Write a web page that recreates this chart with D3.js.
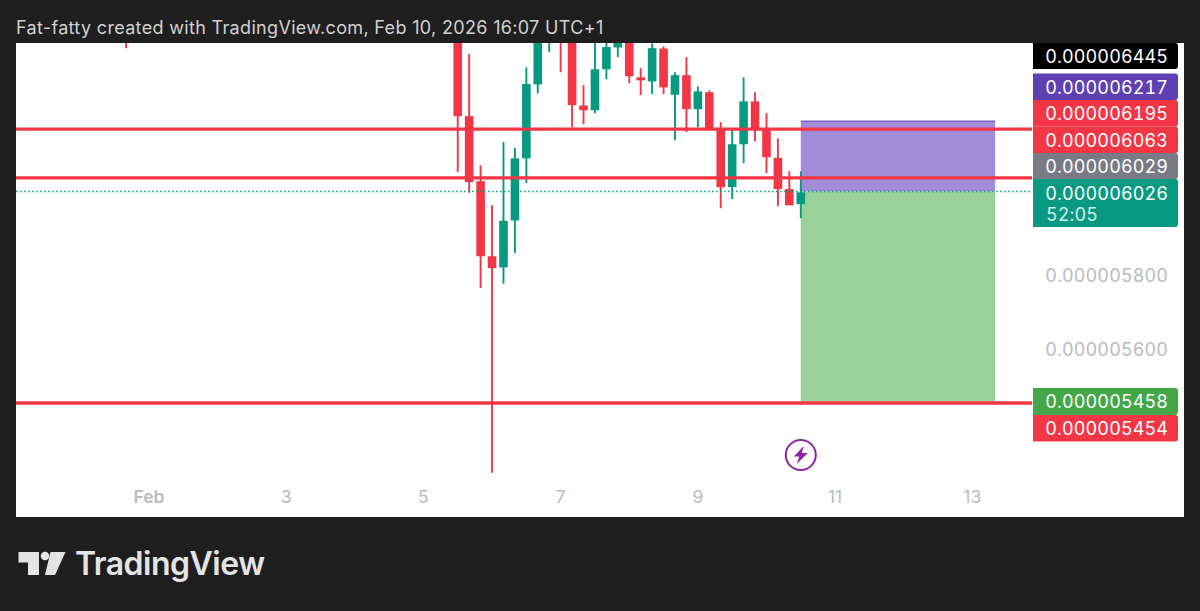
<!DOCTYPE html>
<html><head><meta charset="utf-8">
<script src="https://cdn.jsdelivr.net/npm/d3@7"></script>
<style>html,body{margin:0;padding:0;background:#1e1e1e}svg{display:block}text{font-family:Inter,"Noto Sans",sans-serif}.num{font-variant-numeric:tabular-nums;font-feature-settings:"tnum" 1}</style>
</head><body><div id="c"></div>
<script>
// bar index counted in 4h bars from Feb 1; prices are in units of 1e-9
const barIndex=[-2,27,28,29,30,31,32,33,34,35,36,37,38,39,40,41,42,43,44,45,46,47,48,49,50,51,52,53,54,55,56,57];
const opens =[6470,6560,6230,6054,5851,5821,5948,6116,6316,6450,6540,6470,6259,6246,6357,6416,6450,6335,6324,6413,6288,6341,6249,6295,6197,6038,6154,6270,6197,6117,6033,5992];
const closes=[6424,6230,6052,5851,5819,5947,6116,6317,6470,6520,6450,6260,6246,6357,6417,6440,6338,6327,6414,6308,6341,6249,6297,6195,6038,6154,6270,6192,6119,6033,5989,6024];
const highs =[6490,6600,6398,6097,5989,6160,6144,6362,6490,6560,6580,6510,6314,6470,6430,6460,6470,6360,6427,6419,6349,6390,6311,6300,6214,6192,6335,6295,6238,6170,6081,6081];
const lows  =[6414,6079,6023,5765,5265,5777,5860,6049,6292,6403,6349,6200,6208,6238,6330,6390,6319,6287,6290,6290,6165,6187,6200,6195,5981,6006,6103,6162,6076,5987,5989,5954];
const levels=[6195,6063,5454];
const lastPrice=6026, posTop=6217, posBottom=5458, posStartBar=57, posEndBar=74;
const priceTicks=[5800,5600];
const tickBars=[0,12,24,36,48,60,72];
const tickLabels=["Feb","3","5","7","9","11","13"];
const tagValues=["0.000006445","0.000006217","0.000006195","0.000006063","0.000006029","0.000006026","0.000005458","0.000005454"];
const tagColors=["#000000","#5e3fb4","#f23645","#f23645","#787b86","#089981","#43a748","#f23645"];
const title="Fat-fatty created with TradingView.com, Feb 10, 2026 16:07 UTC+1";
const countdown="52:05";

const W=1200,H=611,L=16,R=1184,T=43,B=517,AX=1033,TAG=18,TAGSP=0.12;
const svg=d3.select("#c").append("svg").attr("width",W).attr("height",H);
svg.append("rect").attr("width",W).attr("height",H).attr("fill","#1e1e1e");
svg.append("rect").attr("x",L).attr("y",T).attr("width",R-L).attr("height",B-T).attr("fill","#fff");
svg.append("defs").append("clipPath").attr("id","clip").append("rect").attr("x",L).attr("y",T).attr("width",AX-L).attr("height",B-T);
svg.append("text").attr("x",16).attr("y",34).attr("fill","#d2d2d2").attr("font-size",18).attr("letter-spacing",0.33).text(title);

const x=d3.scaleLinear().domain([0,72]).range([149,972.3]);
const y=d3.scaleLinear().domain([5454,6217]).range([403,121]);
const g=svg.append("g").attr("clip-path","url(#clip)");
const UP="#089981",DN="#f23645";

// position tool
const px=x(posStartBar),pw=x(posEndBar)-px;
g.append("rect").attr("x",px).attr("y",y(posTop)).attr("width",pw).attr("height",y(lastPrice)-y(posTop)).attr("fill","#a28cd8");
g.append("rect").attr("x",px).attr("y",y(posTop)-0.5).attr("width",pw).attr("height",1.5).attr("fill","#7e62c4");
g.append("rect").attr("x",px).attr("y",y(lastPrice)).attr("width",pw).attr("height",y(posBottom)-y(lastPrice)).attr("fill","#98d298");

// candles
const bars=barIndex.map((b,i)=>({b,o:opens[i],c:closes[i],h:highs[i],l:lows[i]}));
g.selectAll(".w").data(bars).join("line").attr("x1",d=>x(d.b)).attr("x2",d=>x(d.b)).attr("y1",d=>y(d.h)).attr("y2",d=>y(d.l))
 .attr("stroke",d=>d.c>=d.o?UP:DN).attr("stroke-width",1.9);
g.selectAll(".b").data(bars.filter(d=>d.b>=0)).join("rect").attr("x",d=>x(d.b)-4.3).attr("width",8.6)
 .attr("y",d=>y(Math.max(d.o,d.c))).attr("height",d=>Math.max(1,Math.abs(y(d.o)-y(d.c))))
 .attr("fill",d=>d.c>=d.o?UP:DN);

// levels
g.selectAll(".lv").data(levels).join("line").attr("x1",L).attr("x2",AX-1).attr("y1",d=>y(d)).attr("y2",d=>y(d)).attr("stroke",DN).attr("stroke-width",3.4);
g.append("line").attr("x1",L).attr("x2",AX-1).attr("y1",y(lastPrice)).attr("y2",y(lastPrice)).attr("stroke",UP).attr("stroke-width",1.5).attr("stroke-dasharray","1.5 2.5");

// price axis
svg.selectAll(".pt").data(priceTicks).join("text").attr("class","num").attr("x",1168+TAGSP).attr("y",d=>y(d)+0.5).attr("dy","0.36em").attr("text-anchor","end")
 .attr("fill","#b8bbc4").attr("font-size",TAG).attr("letter-spacing",TAGSP).text(d=>"0.00000"+d);

// stacked price tags, as laid out on the axis
const tagTop=[43,73.5,100,126.5,153,179,388,415], tagH=[26,26.5,26.5,26.5,26,48,27,26.5], tagText=[13.5,14,14,14,14,15,14,13.5];
const tags=svg.append("g");
tagValues.forEach((v,i)=>{
  tags.append("path").attr("fill",tagColors[i]).attr("d",`M${AX} ${tagTop[i]}H1175a3 3 0 0 1 3 3V${tagTop[i]+tagH[i]-3}a3 3 0 0 1 -3 3H${AX}Z`);
  tags.append("text").attr("class","num").attr("x",1168+TAGSP).attr("y",tagTop[i]+tagText[i]).attr("dy","0.36em").attr("text-anchor","end").attr("fill","#fff").attr("font-size",TAG).attr("letter-spacing",TAGSP).text(v);
});
tags.append("text").attr("class","num").attr("x",1046).attr("y",215).attr("dy","0.36em").attr("fill","#d3efe9").attr("font-size",TAG).attr("letter-spacing",TAGSP).text(countdown);

// time axis
svg.selectAll(".xt").data(tickBars).join("text").attr("x",d=>x(d)).attr("y",497).attr("dy","0.36em").attr("text-anchor","middle")
 .attr("fill","#b8bbc4").attr("font-size",17.5).attr("font-weight",(d,i)=>i===0?600:400).text((d,i)=>tickLabels[i]);

// flash icon
const ic=svg.append("g").attr("transform",`translate(${x(posStartBar)},455)`);
ic.append("circle").attr("r",15).attr("fill","none").attr("stroke","#8e24aa").attr("stroke-width",2);
ic.append("path").attr("d","M3 -9L-7 1.5H-1.5L-4 9L7 -2H1Z").attr("fill","#8e24aa");

// brand
const lg=svg.append("g").attr("fill","#e4e4e4");
lg.append("path").attr("d","M18.5 552H39V575H28V562.5H18.5Z");
lg.append("circle").attr("cx",45).attr("cy",556).attr("r",4.3);
lg.append("path").attr("d","M50.5 552H65.5L55 575H45Z");
svg.append("text").attr("x",75).attr("y",575).attr("fill","#e4e4e4").attr("font-size",32).attr("font-weight",600).attr("letter-spacing",-0.5).text("TradingView");
</script></body></html>
